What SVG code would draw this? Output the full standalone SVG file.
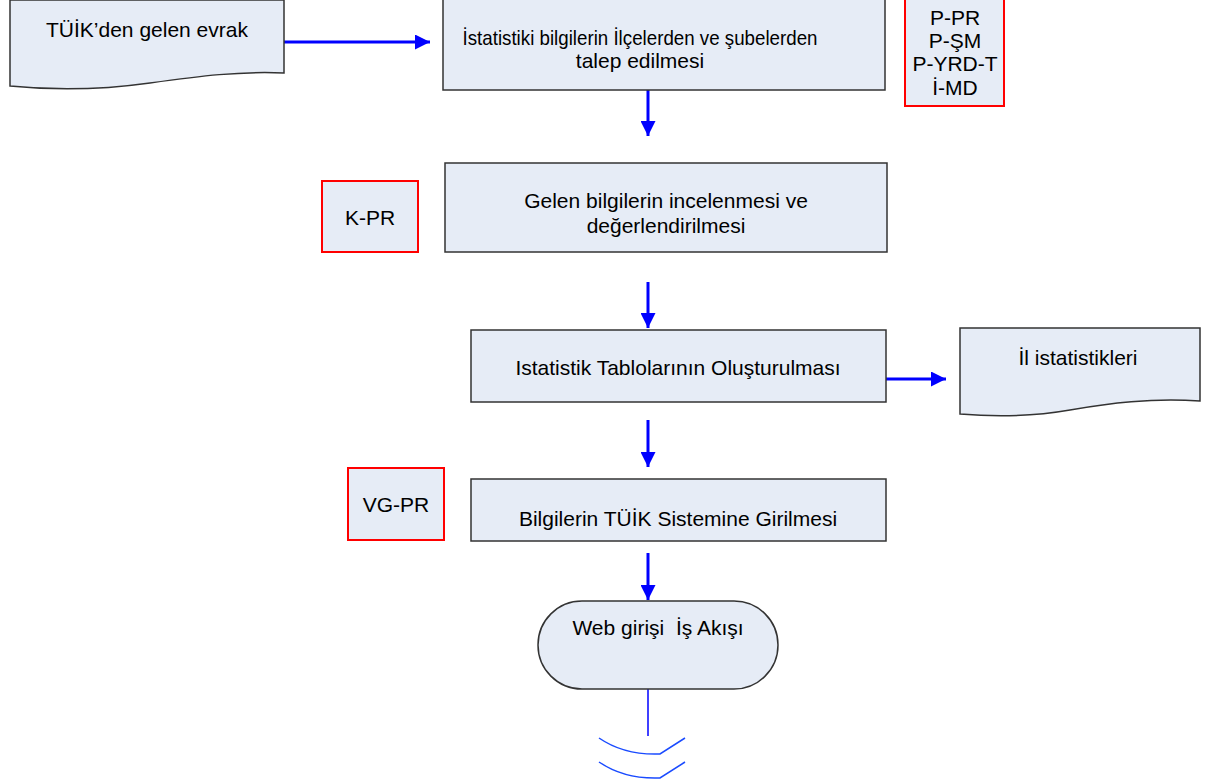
<svg xmlns="http://www.w3.org/2000/svg" width="1207" height="784" viewBox="0 0 1207 784">
<defs>
<style>
.box{fill:#E6ECF6;stroke:#333;stroke-width:1.5}
.ref{fill:#E6ECF6;stroke:#FF0000;stroke-width:2}
.t{font-family:"Liberation Sans",Arial,sans-serif;font-size:21px;fill:#000;text-anchor:middle}
.c{stroke:#0000FF;stroke-width:3;fill:none}
.thin{stroke:#0000FF;stroke-width:1.5;fill:none}
.arc{stroke:#1A4BFF;stroke-width:1.5;fill:none}
</style>
<marker id="ah" markerWidth="5" markerHeight="5" refX="5" refY="2.5" orient="auto" markerUnits="strokeWidth">
<path d="M0,0 L5,2.5 L0,5 Z" fill="#0000FF"/>
</marker>
</defs>
<rect width="1207" height="784" fill="#FFFFFF"/>
<g id="connectors">
<line class="c" x1="284" y1="42" x2="430" y2="42" marker-end="url(#ah)"/>
<line class="c" x1="648" y1="90" x2="648" y2="136" marker-end="url(#ah)"/>
<line class="c" x1="648" y1="282" x2="648" y2="328" marker-end="url(#ah)"/>
<line class="c" x1="886" y1="379" x2="946" y2="379" marker-end="url(#ah)"/>
<line class="c" x1="648" y1="420" x2="648" y2="467" marker-end="url(#ah)"/>
<line class="c" x1="648" y1="553" x2="648" y2="600" marker-end="url(#ah)"/>
<line class="thin" x1="648" y1="689" x2="648" y2="736"/>
<path class="arc" d="M599,738 C615,749 635,755 660,754 L685,738"/>
<path class="arc" d="M599,762 C615,773 635,779 660,778 L685,762"/>
</g>
<g id="doc-tuik">
<path class="box" d="M10,0 H284 V73 C240,71 200,76 150,83 C100,90 50,90 10,86 Z"/>
<text class="t" x="147" y="37">TÜİK’den gelen evrak</text>
</g>
<g id="talep">
<rect class="box" x="443" y="-1" width="442" height="91"/>
<text class="t" x="640" y="45" textLength="355" lengthAdjust="spacingAndGlyphs">İstatistiki bilgilerin İlçelerden ve şubelerden</text>
<text class="t" x="640" y="68">talep edilmesi</text>
</g>
<g id="ref-p">
<rect class="ref" x="905" y="-1" width="99" height="107"/>
<text class="t" x="955" y="25">P-PR</text>
<text class="t" x="955" y="48">P-ŞM</text>
<text class="t" x="955" y="71">P-YRD-T</text>
<text class="t" x="955" y="95">İ-MD</text>
</g>
<g id="ref-k">
<rect class="ref" x="322" y="181" width="96" height="71"/>
<text class="t" x="370" y="225">K-PR</text>
</g>
<g id="inceleme">
<rect class="box" x="445" y="163" width="442" height="89"/>
<text class="t" x="666" y="208">Gelen bilgilerin incelenmesi ve</text>
<text class="t" x="666" y="233">değerlendirilmesi</text>
</g>
<g id="tablolar">
<rect class="box" x="471" y="330" width="415" height="72"/>
<text class="t" x="678" y="375">Istatistik Tablolarının Oluşturulması</text>
</g>
<g id="doc-il">
<path class="box" d="M960,328 H1200 V401 C1150,398 1110,403 1070,410 C1030,417 995,417 960,414 Z"/>
<text class="t" x="1078" y="365">İl istatistikleri</text>
</g>
<g id="ref-vg">
<rect class="ref" x="348" y="468" width="96" height="72"/>
<text class="t" x="396" y="512">VG-PR</text>
</g>
<g id="tuik-giris">
<rect class="box" x="471" y="479" width="415" height="62"/>
<text class="t" x="678" y="526">Bilgilerin TÜİK Sistemine Girilmesi</text>
</g>
<g id="web">
<rect class="box" x="538" y="601" width="240" height="88" rx="44" ry="44"/>
<text class="t" x="658" y="635" xml:space="preserve">Web girişi  İş Akışı</text>
</g>
</svg>
